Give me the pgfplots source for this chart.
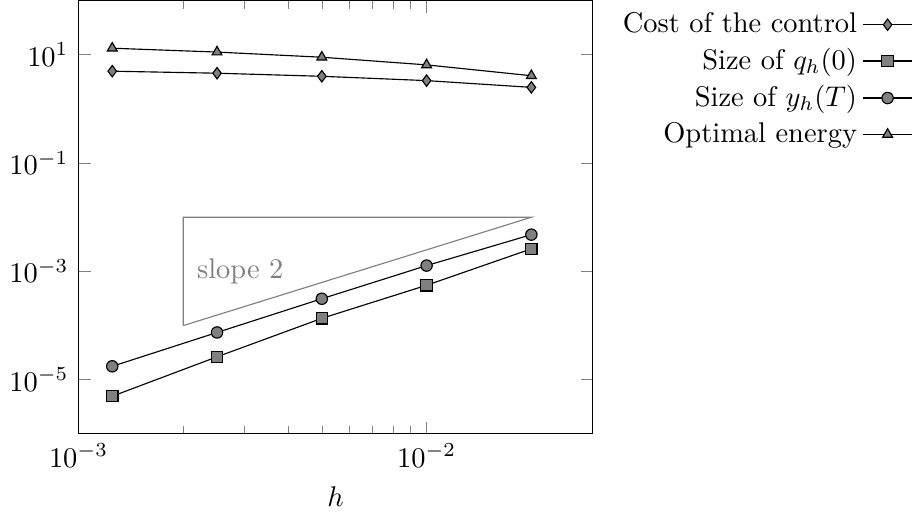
\documentclass[border=0pt]{standalone}
\usepackage{pgfplots}
\pgfplotsset{compat=1.18}
\begin{document}
\begin{tikzpicture}
\begin{loglogaxis}[
  scale only axis,
  width=180.7pt, height=152.3pt,
  xmin=1e-3, xmax=3e-2,
  ymin=1e-6, ymax=1e2,
  ytick={1e-5,1e-3,1e-1,1e1},
  xlabel={$h$},
  legend pos=outer north east,
  legend style={draw=none, fill=none},
  legend cell align=right,
  legend plot pos=right,
]
\addplot[black, mark=diamond*, mark options={fill=gray}] coordinates {
 (1.25e-3, 4.97) (2.5e-3, 4.56) (5e-3, 4.0) (1e-2, 3.33) (2e-2, 2.5)};
\addlegendentry{Cost of the control}
\addplot[black, mark=square*, mark options={fill=gray}] coordinates {
 (1.25e-3, 4.96e-6) (2.5e-3, 2.65e-5) (5e-3, 1.36e-4) (1e-2, 5.55e-4) (2e-2, 2.61e-3)};
\addlegendentry{Size of $q_h(0)$}
\addplot[black, mark=*, mark options={fill=gray}] coordinates {
 (1.25e-3, 1.77e-5) (2.5e-3, 7.46e-5) (5e-3, 3.13e-4) (1e-2, 1.28e-3) (2e-2, 4.77e-3)};
\addlegendentry{Size of $y_h(T)$}
\addplot[black, mark=triangle*, mark options={fill=gray}] coordinates {
 (1.25e-3, 13.2) (2.5e-3, 11.2) (5e-3, 9.0) (1e-2, 6.5) (2e-2, 4.1)};
\addlegendentry{Optimal energy}
\addplot[gray, no marks, forget plot] coordinates {
 (2e-3, 1e-4) (2e-3, 1e-2) (2e-2, 1e-2) (2e-3, 1e-4)};
\node[gray, anchor=west] at (axis cs:2.05e-3, 1e-3) {slope 2};
\end{loglogaxis}
\end{tikzpicture}
\end{document}
